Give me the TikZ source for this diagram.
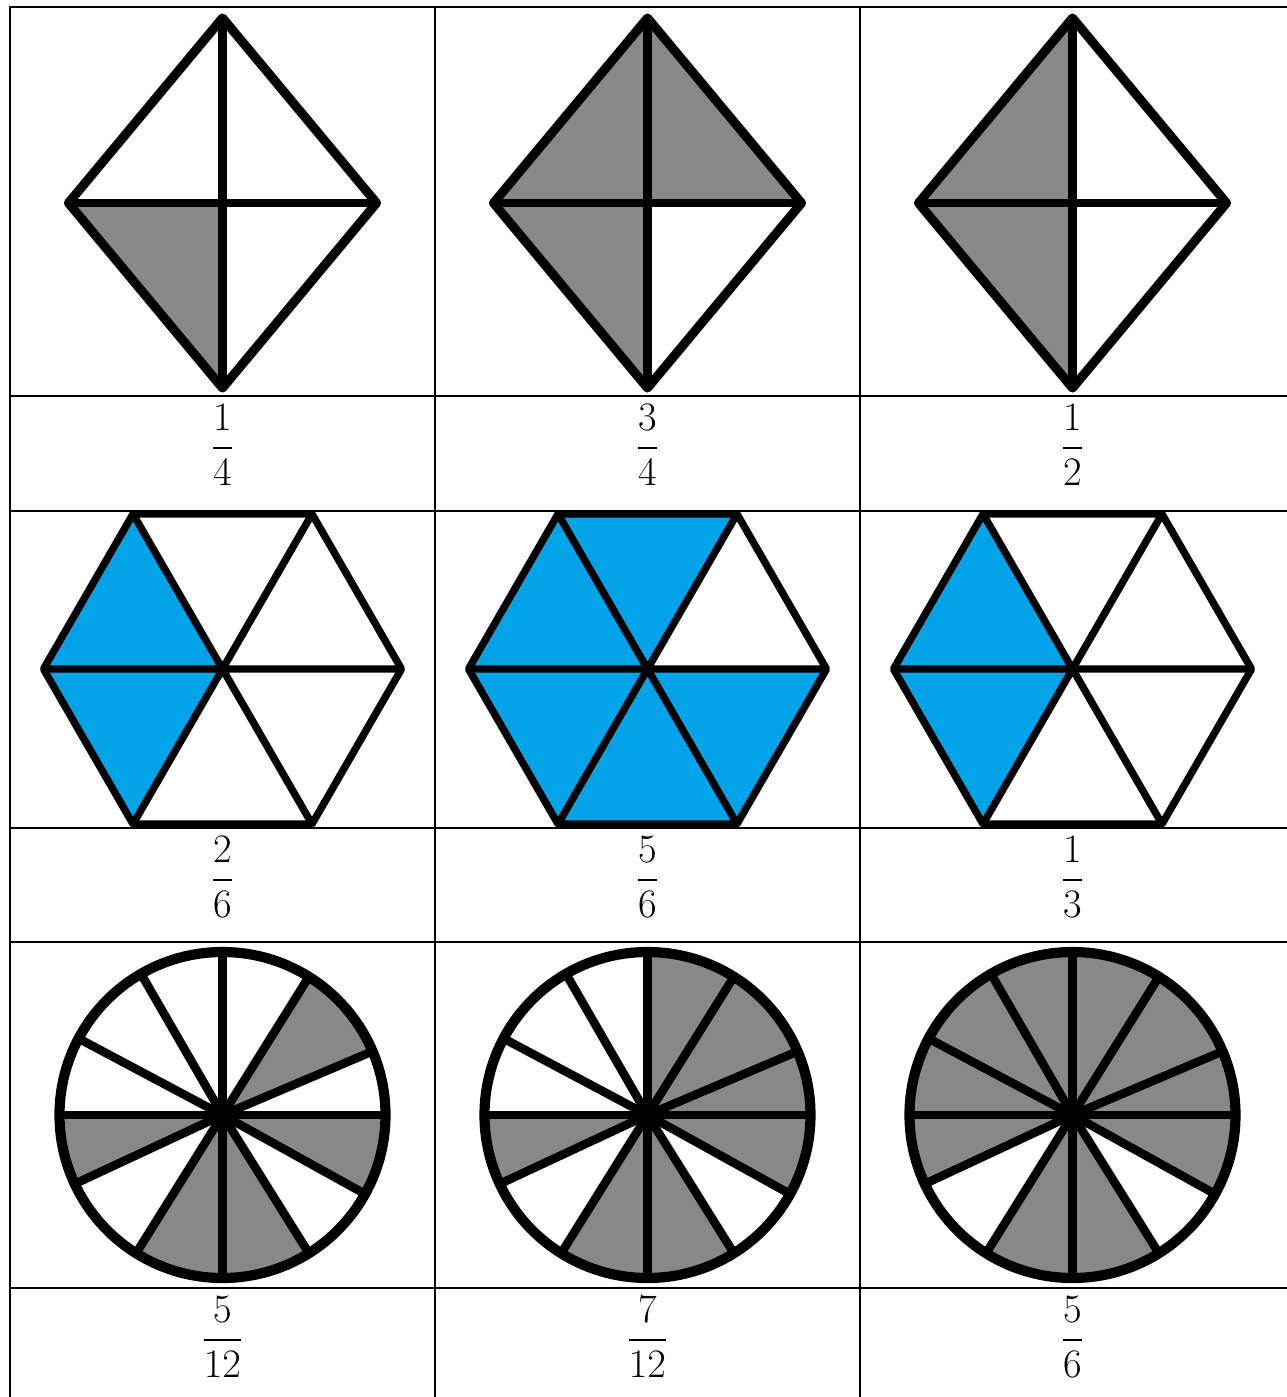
\RequirePackage{fix-cm}
\documentclass[tikz,border=0pt]{standalone}
\usepackage{amsmath}
\usepackage{xcolor}
\usepackage{tikz}

\definecolor{partgray}{RGB}{136,136,136}
\definecolor{partblue}{RGB}{0,162,232}

\begin{document}
\begin{tikzpicture}[x=0.02cm,y=-0.02cm,
  grid/.style={line width=1.4pt,line cap=rect},
  kite/.style={line width=5.2pt,line join=round},
  cross/.style={line width=4.8pt},
  hexline/.style={line width=4.2pt,line join=round},
  wheel/.style={line width=5.8pt},
  spoke/.style={line width=4.9pt},
  frac/.style={anchor=base,font=\fontsize{23}{27}\selectfont}]
\useasboundingbox (0,0) rectangle (1286,1397);

% row 1: kites
\begin{scope}[shift={(222.5,0)}]
  \fill[partgray] (0,203) -- (-154,203) -- (0,388) -- cycle;
  \draw[kite] (0,18) -- (154,203) -- (0,388) -- (-154,203) -- cycle;
  \draw[cross] (0,18) -- (0,388) (-154,203) -- (154,203);
\end{scope}
\begin{scope}[shift={(647.5,0)}]
  \fill[partgray] (0,18) -- (154,203) -- (0,203) -- (0,388) -- (-154,203) -- cycle;
  \draw[kite] (0,18) -- (154,203) -- (0,388) -- (-154,203) -- cycle;
  \draw[cross] (0,18) -- (0,388) (-154,203) -- (154,203);
\end{scope}
\begin{scope}[shift={(1072.5,0)}]
  \fill[partgray] (0,18) -- (0,388) -- (-154,203) -- cycle;
  \draw[kite] (0,18) -- (154,203) -- (0,388) -- (-154,203) -- cycle;
  \draw[cross] (0,18) -- (0,388) (-154,203) -- (154,203);
\end{scope}

% row 3: hexagons
\begin{scope}[shift={(222.5,669)}]
  \fill[partblue] (0,0) -- (-120:179) -- (180:179) -- (-240:179) -- cycle;
  \draw[hexline] (0:179) -- (60:179) -- (120:179) -- (180:179) -- (240:179) -- (300:179) -- cycle;
  \draw[hexline] (0:179) -- (180:179) (60:179) -- (240:179) (120:179) -- (300:179);
\end{scope}
\begin{scope}[shift={(647.5,669)}]
  \fill[partblue] (0,0) -- (0:179) -- (60:179) -- (120:179) -- (180:179) -- (240:179) -- (300:179) -- cycle;
  \draw[hexline] (0:179) -- (60:179) -- (120:179) -- (180:179) -- (240:179) -- (300:179) -- cycle;
  \draw[hexline] (0:179) -- (180:179) (60:179) -- (240:179) (120:179) -- (300:179);
\end{scope}
\begin{scope}[shift={(1072.5,669)}]
  \fill[partblue] (0,0) -- (-120:179) -- (180:179) -- (-240:179) -- cycle;
  \draw[hexline] (0:179) -- (60:179) -- (120:179) -- (180:179) -- (240:179) -- (300:179) -- cycle;
  \draw[hexline] (0:179) -- (180:179) (60:179) -- (240:179) (120:179) -- (300:179);
\end{scope}

% row 5: wheels of 12
\begin{scope}[shift={(222.5,1115)}]
  \foreach \a/\b in {23/58,180/205,238/270,270/302,331/360}
    \fill[partgray] (0,0) -- (-\a:163) arc[start angle=-\a,end angle=-\b,radius=163] -- cycle;
  \draw[wheel] (0,0) circle[radius=163];
  \foreach \a in {0,23,58,90,120,152,180,205,238,270,302,331}
    \draw[spoke] (0,0) -- (-\a:163);
  \fill (0,0) circle[radius=8];
\end{scope}
\begin{scope}[shift={(647.5,1115)}]
  \foreach \a/\b in {0/23,23/58,58/90,180/205,238/270,270/302,331/360}
    \fill[partgray] (0,0) -- (-\a:163) arc[start angle=-\a,end angle=-\b,radius=163] -- cycle;
  \draw[wheel] (0,0) circle[radius=163];
  \foreach \a in {0,23,58,90,120,152,180,205,238,270,302,331}
    \draw[spoke] (0,0) -- (-\a:163);
  \fill (0,0) circle[radius=8];
\end{scope}
\begin{scope}[shift={(1072.5,1115)}]
  \foreach \a/\b in {0/23,23/58,58/90,90/120,120/152,152/180,180/205,238/270,270/302,331/360}
    \fill[partgray] (0,0) -- (-\a:163) arc[start angle=-\a,end angle=-\b,radius=163] -- cycle;
  \draw[wheel] (0,0) circle[radius=163];
  \foreach \a in {0,23,58,90,120,152,180,205,238,270,302,331}
    \draw[spoke] (0,0) -- (-\a:163);
  \fill (0,0) circle[radius=8];
\end{scope}

% fractions
\node[frac] (q11) at (222.5,458) {$\dfrac{1}{4}$};
\node[frac] (q12) at (647.5,458) {$\dfrac{3}{4}$};
\node[frac] (q13) at (1072.5,458) {$\dfrac{1}{2}$};
\node[frac] (q21) at (222.5,890) {$\dfrac{2}{6}$};
\node[frac] (q22) at (647.5,890) {$\dfrac{5}{6}$};
\node[frac] (q23) at (1072.5,890) {$\dfrac{1}{3}$};
\node[frac] (q31) at (222.5,1350) {$\dfrac{5}{12}$};
\node[frac] (q32) at (647.5,1350) {$\dfrac{7}{12}$};
\node[frac] (q33) at (1072.5,1350) {$\dfrac{5}{6}$};

% table lines
\foreach \y in {7,396,511,828,942,1288}
  \draw[grid] (10,\y) -- (1286,\y);
\foreach \x in {10,435,860}
  \draw[grid] (\x,7) -- (\x,1397);
\end{tikzpicture}
\end{document}
